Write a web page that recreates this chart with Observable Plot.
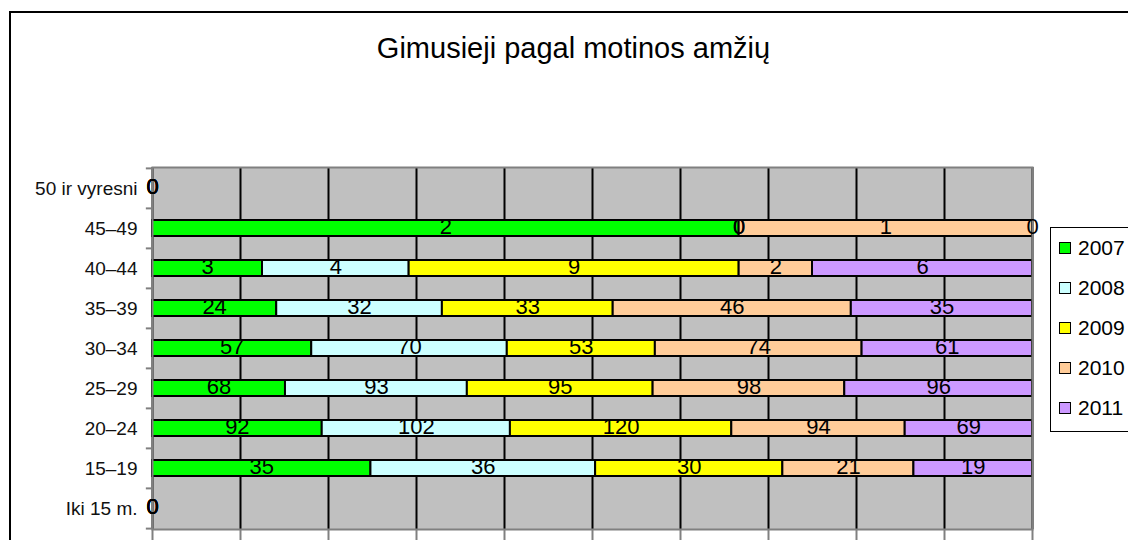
<!DOCTYPE html>
<html><head><meta charset="utf-8">
<script src="https://cdn.jsdelivr.net/npm/d3@7"></script>
<script src="https://cdn.jsdelivr.net/npm/@observablehq/plot@0.6"></script>
<style>
html,body{margin:0;padding:0;background:#fff;}
#wrap{position:relative;width:1128px;height:540px;overflow:hidden;background:#fff;}
#chart{position:absolute;left:0;top:0;}
#frame{position:absolute;left:9px;top:11px;width:1200px;height:600px;border:2px solid #000;box-sizing:border-box;}
#title{position:absolute;left:0;width:1147px;top:34px;text-align:center;font:29px/29px 'Liberation Sans',Arial,sans-serif;color:#000;white-space:nowrap;}
#legend{position:absolute;left:1050px;top:227px;width:120px;height:205px;border:1.5px solid #000;background:#fff;box-sizing:border-box;}
.item{position:absolute;left:0;height:30px;line-height:30px;font-family:'Liberation Sans',Arial,sans-serif;font-size:21px;color:#000;white-space:nowrap;}
.sw{position:absolute;left:8px;top:9px;width:12px;height:12px;border:1.5px solid #000;box-sizing:border-box;}
.lt{position:absolute;left:27px;top:0;}
</style>
</head><body>
<div id="wrap">
  <div id="frame"></div>
  <div id="chart"></div>
  <div id="title">Gimusieji pagal motinos amžių</div>
  <div id="legend"></div>
</div>
<script>
const titleText = "Gimusieji pagal motinos amžių";
// categories bottom-to-top as in the original
const categories = ["Iki 15 m.", "15–19", "20–24", "25–29", "30–34", "35–39", "40–44", "45–49", "50 ir vyresni"];
const years = ["2007", "2008", "2009", "2010", "2011"];
const v2007 = [0, 35, 92, 68, 57, 24, 3, 2, 0];
const v2008 = [0, 36, 102, 93, 70, 32, 4, 0, 0];
const v2009 = [0, 30, 120, 95, 53, 33, 9, 0, 0];
const v2010 = [0, 21, 94, 98, 74, 46, 2, 1, 0];
const v2011 = [0, 19, 69, 96, 61, 35, 6, 0, 0];
const colors = ["#00FF00", "#CCFFFF", "#FFFF00", "#FFCC99", "#CC99FF"];
const xTicks = [0, 0.1, 0.2, 0.3, 0.4, 0.5, 0.6, 0.7, 0.8, 0.9, 1];

const series = [v2007, v2008, v2009, v2010, v2011];
const rows = [];
categories.forEach((cat, i) => {
  const vals = series.map(s => s[i]);
  const total = d3.sum(vals);
  let cum = 0;
  vals.forEach((v, j) => {
    const x1 = total ? cum / total : 0;
    cum += v;
    const x2 = total ? cum / total : 0;
    rows.push({cat, year: years[j], value: v, x1, x2, xm: (x1 + x2) / 2});
  });
});

const font = "'Liberation Sans',Arial,sans-serif";
const W = 1128, H = 540, mL = 152, mR = 96, mT = 167, mB = 11;
const bw = (H - mT - mB) / categories.length;

const plot = Plot.plot({
  width: W, height: H,
  marginLeft: mL, marginRight: mR, marginTop: mT, marginBottom: mB,
  x: {domain: [0, 1], axis: null},
  y: {domain: categories.slice().reverse(), padding: 0, axis: null},
  color: {domain: years, range: colors},
  style: {fontFamily: font, fontSize: "19px", color: "#000", background: "transparent", overflow: "visible"},
  marks: [
    Plot.frame({fill: "#C0C0C0", stroke: null}),
    Plot.gridX(xTicks, {stroke: "#000", strokeOpacity: 1, strokeWidth: 2}),
    Plot.barX(rows.filter(d => d.value > 0), {y: "cat", x1: "x1", x2: "x2", fill: "year", stroke: "#000", strokeWidth: 2, insetTop: 12, insetBottom: 12}),
    Plot.frame({stroke: "#808080", strokeWidth: 2}),
    Plot.text(rows, {y: "cat", x: "xm", text: d => String(d.value), fontSize: 22, dy: -1.5, fill: "#000", fontFamily: font}),
    Plot.axisY({tickSize: 0, tickPadding: 15, fontSize: 19, fontFamily: font, label: null, fill: "#111"}),
    Plot.ruleY(categories, {y: d => d, x1: -0.007, x2: 0, dy: -bw / 2, stroke: "#808080", strokeWidth: 2}),
    Plot.ruleY([categories[0]], {y: d => d, x1: -0.007, x2: 0, dy: bw / 2, stroke: "#808080", strokeWidth: 2}),
    Plot.axisX(xTicks, {tickSize: 12, tickFormat: () => "", stroke: "#808080", strokeWidth: 2, label: null})
  ]
});
document.getElementById("chart").appendChild(plot);

const legend = document.getElementById("legend");
years.forEach((y, i) => {
  const it = document.createElement("div");
  it.className = "item";
  it.style.top = (5 + 40 * i) + "px";
  it.innerHTML = `<div class="sw" style="background:${colors[i]}"></div><div class="lt">${y}</div>`;
  legend.appendChild(it);
});
</script>
</body></html>
